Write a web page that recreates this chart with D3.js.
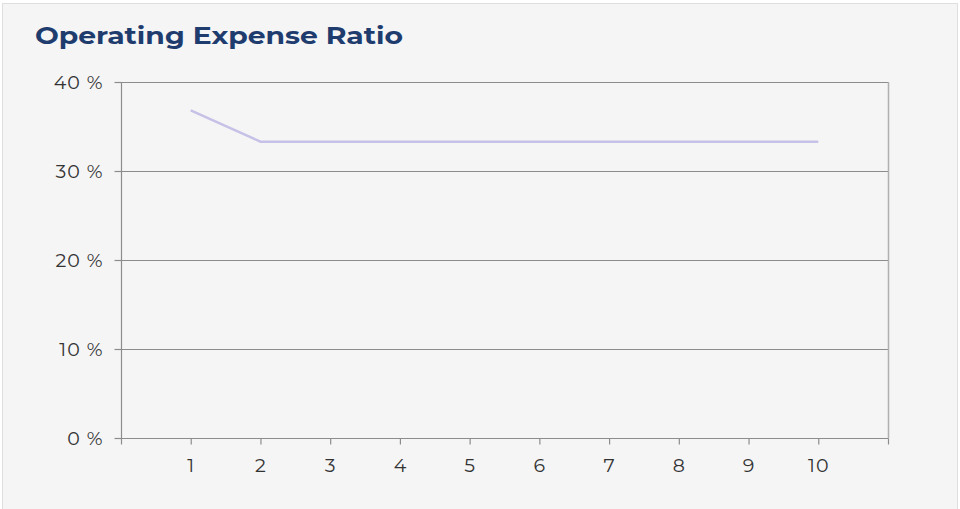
<!DOCTYPE html>
<html><head><meta charset="utf-8">
<script src="https://cdn.jsdelivr.net/npm/d3@7"></script>
<style>html,body{margin:0;padding:0;background:#ffffff;}svg{display:block;}</style>
</head><body>
<script>
const title = "Operating Expense Ratio";
const periods = [1,2,3,4,5,6,7,8,9,10];
const ratio = [36.8,33.3,33.3,33.3,33.3,33.3,33.3,33.3,33.3,33.3];
const yTicks = [0,10,20,30,40];

const W = 960, H = 509;
const svg = d3.select("body").append("svg").attr("width",W).attr("height",H);
svg.append("rect").attr("x",2.5).attr("y",3.5).attr("width",955).attr("height",510)
  .attr("fill","#f5f5f5").attr("stroke","#dedede");

const m = {l:121, r:888, t:82, b:438};
const x = d3.scaleLinear().domain([0,11]).range([m.l,m.r]);
const y = d3.scaleLinear().domain([0,40]).range([m.b,m.t]);
const font = "Montserrat, 'Open Sans', 'DejaVu Sans', sans-serif";

svg.append("text").attr("x",35).attr("y",44).text(title)
  .attr("font-family",font).attr("font-weight",700).attr("font-size",24)
  .attr("fill","#1f3c6e").attr("textLength",368).attr("lengthAdjust","spacingAndGlyphs");

// gridlines
svg.append("g").selectAll("line").data(yTicks.filter(d=>d>0)).join("line")
  .attr("x1",m.l).attr("x2",m.r).attr("y1",d=>y(d)+0.5).attr("y2",d=>y(d)+0.5)
  .attr("stroke","#8c8c8c").attr("stroke-width",1);
// right border
svg.append("line").attr("x1",m.r+0.5).attr("x2",m.r+0.5).attr("y1",m.t).attr("y2",m.b)
  .attr("stroke","#b0b0b0").attr("stroke-width",1.5);

const yAxis = svg.append("g").attr("transform",`translate(${m.l+0.5},0)`)
  .call(d3.axisLeft(y).tickValues(yTicks).tickSize(7).tickPadding(11).tickFormat(d=>d+" %"));
const xAxis = svg.append("g").attr("transform",`translate(0,${m.b+0.5})`)
  .call(d3.axisBottom(x).tickValues(d3.range(0,12)).tickSize(6).tickPadding(14)
    .tickFormat(d=> (d>=1 && d<=10) ? String(d) : ""));
[yAxis,xAxis].forEach(a=>{
  a.selectAll("path,line").attr("stroke","#8c8c8c").attr("stroke-width",1.2);
  a.selectAll("text").attr("font-family",font).attr("font-size",19).attr("font-weight",400)
    .attr("letter-spacing","1px").attr("fill","#333");
});
yAxis.select(".domain").attr("d",`M0,${m.t}V${m.b}`);
xAxis.select(".domain").attr("d",`M${m.l},0H${m.r+0.5}`);

const line = d3.line().x((d,i)=>x(periods[i])).y(d=>y(d));
svg.append("path").datum(ratio).attr("d",line).attr("fill","none")
  .attr("stroke","#c6c1e6").attr("stroke-width",2.5);
</script>
</body></html>
